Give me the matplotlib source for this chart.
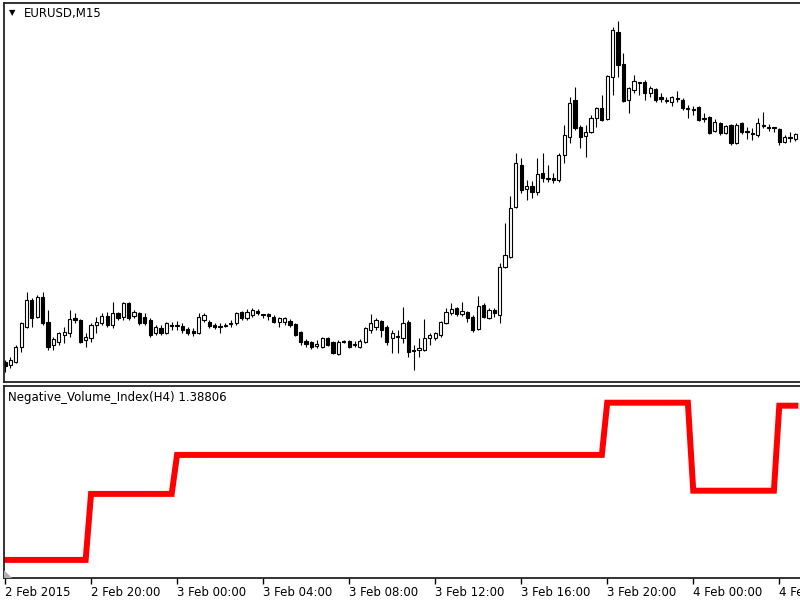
import matplotlib
matplotlib.use("Agg")
import matplotlib.pyplot as plt
from matplotlib.patches import Polygon
import numpy as np

# EURUSD M15 bars, 2 Feb 2015 16:00 onwards
opens = [1.13690, 1.13675, 1.13690, 1.13765, 1.13865, 1.14000, 1.13915, 1.14015, 1.13890, 1.13775,
         1.13790, 1.13825, 1.13835, 1.13910, 1.13900, 1.13800, 1.13810, 1.13875, 1.13885, 1.13920,
         1.13875, 1.13935, 1.13915, 1.13985, 1.13920, 1.13935, 1.13915, 1.13900, 1.13835, 1.13860,
         1.13835, 1.13875, 1.13870, 1.13870, 1.13855, 1.13845, 1.13835, 1.13900, 1.13890, 1.13875,
         1.13870, 1.13870, 1.13880, 1.13885, 1.13940, 1.13910, 1.13925, 1.13945, 1.13930, 1.13930,
         1.13915, 1.13890, 1.13890, 1.13895, 1.13880, 1.13840, 1.13795, 1.13790, 1.13770, 1.13765,
         1.13810, 1.13790, 1.13730, 1.13795, 1.13795, 1.13780, 1.13765, 1.13790, 1.13850, 1.13865,
         1.13895, 1.13865, 1.13810, 1.13820, 1.13810, 1.13890, 1.13750, 1.13750, 1.13750, 1.13810,
         1.13810, 1.13825, 1.13885, 1.13935, 1.13960, 1.13930, 1.13940, 1.13915, 1.13855, 1.13975,
         1.13910, 1.13950, 1.13925, 1.14165, 1.14215, 1.14465, 1.14675, 1.14555, 1.14570, 1.14540,
         1.14635, 1.14610, 1.14610, 1.14600, 1.14725, 1.14815, 1.15000, 1.14865, 1.14820, 1.14840,
         1.14910, 1.14960, 1.14905, 1.15115, 1.15340, 1.15180, 1.15000, 1.15050, 1.15090, 1.15090,
         1.15035, 1.15055, 1.15015, 1.15000, 1.14990, 1.15010, 1.15000, 1.14960, 1.14955, 1.14965,
         1.14910, 1.14915, 1.14845, 1.14885, 1.14835, 1.14875, 1.14785, 1.14885, 1.14845, 1.14835,
         1.14825, 1.14875, 1.14865, 1.14865, 1.14855, 1.14790, 1.14815, 1.14805]
highs = [1.13700, 1.13715, 1.13775, 1.13890, 1.14040, 1.14010, 1.14025, 1.14040, 1.13950, 1.13815,
         1.13840, 1.13865, 1.13950, 1.13935, 1.13905, 1.13835, 1.13885, 1.13915, 1.13935, 1.13940,
         1.13990, 1.13940, 1.13990, 1.13990, 1.13950, 1.13940, 1.13935, 1.13910, 1.13875, 1.13875,
         1.13890, 1.13890, 1.13895, 1.13885, 1.13865, 1.13860, 1.13935, 1.13935, 1.13900, 1.13885,
         1.13885, 1.13885, 1.13900, 1.13940, 1.13945, 1.13955, 1.13960, 1.13955, 1.13930, 1.13935,
         1.13925, 1.13915, 1.13915, 1.13905, 1.13885, 1.13845, 1.13805, 1.13795, 1.13800, 1.13815,
         1.13815, 1.13795, 1.13800, 1.13800, 1.13800, 1.13795, 1.13805, 1.13865, 1.13930, 1.13910,
         1.13900, 1.13875, 1.13850, 1.13850, 1.13965, 1.13900, 1.13775, 1.13810, 1.13905, 1.13835,
         1.13840, 1.13895, 1.13960, 1.13985, 1.13965, 1.13990, 1.13945, 1.13925, 1.14020, 1.13985,
         1.13960, 1.13960, 1.14185, 1.14385, 1.14520, 1.14735, 1.14710, 1.14600, 1.14595, 1.14710,
         1.14735, 1.14675, 1.14635, 1.14735, 1.14875, 1.15015, 1.15065, 1.14875, 1.14875, 1.14925,
         1.14965, 1.15025, 1.15125, 1.15365, 1.15395, 1.15235, 1.15065, 1.15125, 1.15090, 1.15100,
         1.15070, 1.15060, 1.15035, 1.15015, 1.15020, 1.15045, 1.15010, 1.14975, 1.14970, 1.14970,
         1.14935, 1.14920, 1.14905, 1.14890, 1.14875, 1.14880, 1.14885, 1.14890, 1.14865, 1.14860,
         1.14910, 1.14940, 1.14880, 1.14865, 1.14860, 1.14825, 1.14840, 1.14835]
lows = [1.13640, 1.13660, 1.13685, 1.13740, 1.13860, 1.13865, 1.13910, 1.13875, 1.13750, 1.13750,
        1.13775, 1.13785, 1.13815, 1.13885, 1.13785, 1.13765, 1.13790, 1.13835, 1.13875, 1.13865,
        1.13860, 1.13900, 1.13900, 1.13900, 1.13910, 1.13875, 1.13875, 1.13815, 1.13825, 1.13825,
        1.13830, 1.13850, 1.13850, 1.13835, 1.13825, 1.13820, 1.13830, 1.13890, 1.13860, 1.13855,
        1.13835, 1.13865, 1.13865, 1.13875, 1.13900, 1.13900, 1.13915, 1.13925, 1.13910, 1.13900,
        1.13885, 1.13865, 1.13875, 1.13865, 1.13820, 1.13775, 1.13765, 1.13755, 1.13760, 1.13760,
        1.13770, 1.13730, 1.13725, 1.13785, 1.13760, 1.13765, 1.13760, 1.13785, 1.13835, 1.13850,
        1.13815, 1.13775, 1.13735, 1.13735, 1.13785, 1.13715, 1.13650, 1.13715, 1.13745, 1.13775,
        1.13800, 1.13815, 1.13880, 1.13925, 1.13920, 1.13920, 1.13890, 1.13840, 1.13850, 1.13910,
        1.13905, 1.13915, 1.13885, 1.14160, 1.14210, 1.14460, 1.14535, 1.14500, 1.14510, 1.14525,
        1.14590, 1.14590, 1.14585, 1.14590, 1.14685, 1.14785, 1.14850, 1.14760, 1.14715, 1.14835,
        1.14865, 1.14895, 1.14900, 1.15025, 1.15115, 1.14990, 1.14935, 1.15035, 1.15025, 1.15000,
        1.15015, 1.14990, 1.14990, 1.14985, 1.14970, 1.14990, 1.14950, 1.14910, 1.14925, 1.14895,
        1.14890, 1.14830, 1.14840, 1.14825, 1.14830, 1.14775, 1.14780, 1.14830, 1.14805, 1.14800,
        1.14815, 1.14860, 1.14845, 1.14840, 1.14775, 1.14785, 1.14790, 1.14795]
closes = [1.13670, 1.13700, 1.13765, 1.13885, 1.14000, 1.13910, 1.14015, 1.13885, 1.13765, 1.13805,
          1.13835, 1.13840, 1.13905, 1.13900, 1.13790, 1.13815, 1.13875, 1.13890, 1.13920, 1.13875,
          1.13935, 1.13910, 1.13985, 1.13910, 1.13940, 1.13885, 1.13885, 1.13825, 1.13865, 1.13835,
          1.13885, 1.13870, 1.13875, 1.13850, 1.13835, 1.13835, 1.13915, 1.13925, 1.13870, 1.13865,
          1.13865, 1.13875, 1.13885, 1.13935, 1.13910, 1.13940, 1.13950, 1.13935, 1.13925, 1.13920,
          1.13890, 1.13910, 1.13910, 1.13875, 1.13825, 1.13790, 1.13780, 1.13765, 1.13780, 1.13810,
          1.13775, 1.13735, 1.13790, 1.13790, 1.13765, 1.13775, 1.13795, 1.13860, 1.13885, 1.13900,
          1.13850, 1.13790, 1.13835, 1.13815, 1.13885, 1.13740, 1.13745, 1.13760, 1.13810, 1.13825,
          1.13835, 1.13890, 1.13940, 1.13955, 1.13930, 1.13945, 1.13910, 1.13850, 1.13970, 1.13915,
          1.13950, 1.13935, 1.14165, 1.14225, 1.14460, 1.14685, 1.14550, 1.14570, 1.14540, 1.14630,
          1.14610, 1.14605, 1.14600, 1.14725, 1.14825, 1.14985, 1.14860, 1.14815, 1.14840, 1.14910,
          1.14960, 1.14900, 1.15120, 1.15350, 1.15175, 1.14995, 1.15060, 1.15095, 1.15085, 1.15035,
          1.15060, 1.15000, 1.15005, 1.14995, 1.15015, 1.15005, 1.14960, 1.14955, 1.14950, 1.14900,
          1.14905, 1.14835, 1.14890, 1.14835, 1.14870, 1.14785, 1.14875, 1.14840, 1.14840, 1.14830,
          1.14885, 1.14870, 1.14860, 1.14860, 1.14790, 1.14815, 1.14810, 1.14830]

# Negative Volume Index on H4 (one value per H4 bar, 16 M15 bars each)
nvi_h4 = [1.38035, 1.38365, 1.38560, 1.38560, 1.38560, 1.38560, 1.38560, 1.38821, 1.38381, 1.38806]
bars_per_h4 = 16

tick_labels = ["2 Feb 2015", "2 Feb 20:00", "3 Feb 00:00", "3 Feb 04:00", "3 Feb 08:00",
               "3 Feb 12:00", "3 Feb 16:00", "3 Feb 20:00", "4 Feb 00:00", "4 Feb 04:00"]

o = np.array(opens)
h = np.array(highs)
l = np.array(lows)
c = np.array(closes)
x = np.arange(len(o))
nvi = np.array(nvi_h4)[x // bars_per_h4]

fig = plt.figure(figsize=(8, 6), dpi=100)
ax1 = fig.add_axes([4 / 800, 1 - 382 / 600, 1.0, 379 / 600])
ax2 = fig.add_axes([4 / 800, 1 - 578 / 600, 1.0, 192 / 600])

px = 5.377  # pixels per bar
xl = ((4 - 5) / px, (804 - 5) / px)

for ax in (ax1, ax2):
    ax.set_xlim(*xl)
    ax.set_yticks([])
    for s in ax.spines.values():
        s.set_color("#222222")
        s.set_linewidth(1.3)

# candles
up = c >= o
ax1.vlines(x, l, h, color="black", linewidth=0.8, zorder=1)
ax1.bar(x[up], (c - o)[up], bottom=o[up], width=0.6, color="white",
        edgecolor="black", linewidth=0.8, zorder=2)
ax1.bar(x[~up], (o - c)[~up], bottom=c[~up], width=0.6, color="black",
        edgecolor="black", linewidth=0.8, zorder=2)
ax1.set_ylim(1.13590, 1.15485)
ax1.set_xticks([])

# NVI line
ax2.plot(x, nvi, color="red", linewidth=4.3, solid_joinstyle="miter")
ax2.set_ylim(1.379445, 1.389045)
ticks = np.arange(len(tick_labels)) * bars_per_h4
ax2.set_xticks(ticks)
ax2.set_xticklabels(tick_labels, ha="left", fontsize=8.5)
ax2.tick_params(axis="x", direction="out", length=4, width=1, pad=2, colors="black")

# small grey shift marker
ax2.add_patch(Polygon([[0, 0], [0.009, 0], [0, 0.035]], closed=True,
                      transform=ax2.transAxes, color="#b0b0b0", zorder=3))

fig.text(12 / 800, 1 - 13 / 600, "\u25BC", fontsize=6, ha="center", va="center")
fig.text(24 / 800, 1 - 13 / 600, "EURUSD,M15", fontsize=8.5, va="center")
fig.text(8 / 800, 1 - 398 / 600, "Negative_Volume_Index(H4) %.5f" % nvi[-1],
         fontsize=8.5, va="center")

fig.savefig("out.png", dpi=100)
